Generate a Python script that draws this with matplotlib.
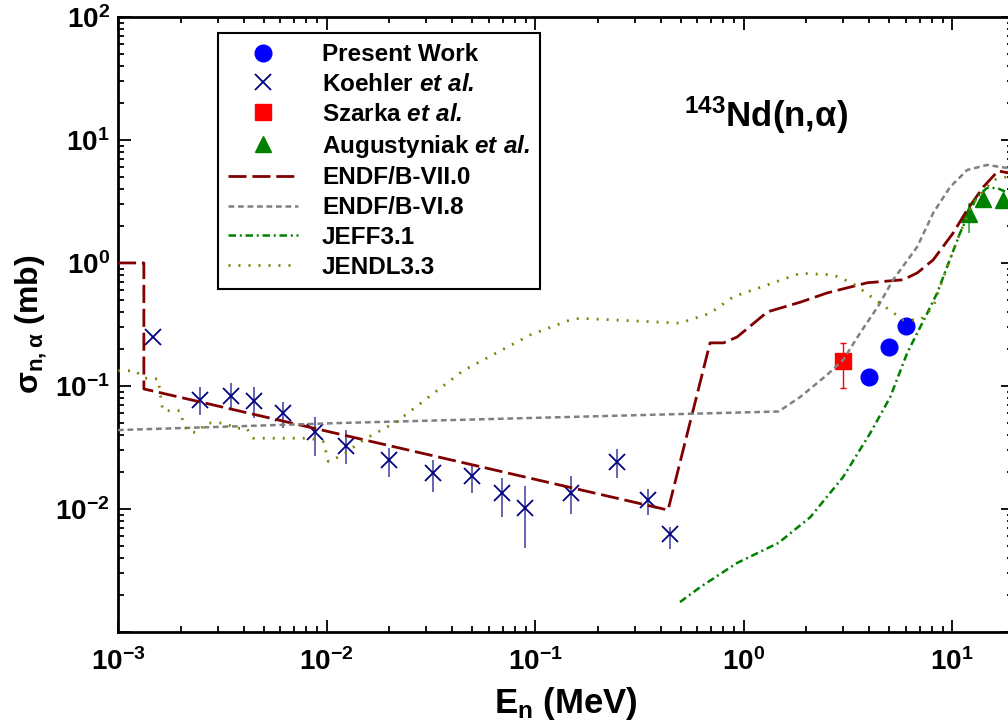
import numpy as np
import matplotlib.pyplot as plt

plt.rcParams['font.family'] = ['Liberation Sans', 'DejaVu Sans']
plt.rcParams['font.weight'] = 'bold'
plt.rcParams['mathtext.fontset'] = 'custom'
plt.rcParams['mathtext.rm'] = 'Liberation Sans:bold'
plt.rcParams['mathtext.it'] = 'Liberation Sans:bold'
plt.rcParams['mathtext.bf'] = 'Liberation Sans:bold'
plt.rcParams['mathtext.sf'] = 'Liberation Sans:bold:italic'
plt.rcParams['mathtext.default'] = 'bf'

# Present work
pw_e = [4.0, 5.0, 6.0]
pw_s = [0.118, 0.207, 0.308]

# Koehler et al.
ko_e = [1.47e-3, 2.47e-3, 3.48e-3, 4.49e-3, 6.2e-3, 8.8e-3, 0.0124, 0.020,
        0.0323, 0.0497, 0.0695, 0.0895, 0.149, 0.247, 0.347, 0.444]
ko_s = [0.250, 0.0769, 0.0830, 0.0755, 0.0603, 0.0423, 0.0327, 0.0250,
        0.0196, 0.0187, 0.0135, 0.0102, 0.0136, 0.0241, 0.0118, 0.0063]
ko_hi = [0.250, 0.0982, 0.1057, 0.0982, 0.0741, 0.0560, 0.0439, 0.0313,
         0.0250, 0.0224, 0.0179, 0.0154, 0.0185, 0.0308, 0.0146, 0.0071]
ko_lo = [0.250, 0.0581, 0.0638, 0.0550, 0.0456, 0.0270, 0.0232, 0.0182,
         0.0137, 0.0135, 0.0086, 0.0048, 0.0091, 0.0179, 0.0089, 0.0047]

# Szarka et al.
sz_e = [3.0]
sz_s = [0.16]
sz_lo = [0.096]
sz_hi = [0.224]

# Augustyniak et al.
au_e = [12.0, 14.1, 17.6]
au_s = [2.50, 3.31, 3.25]
au_lo = [1.75, 3.31, 3.25]
au_hi = [3.07, 3.31, 3.25]

# ENDF/B-VII.0
e7_e = [1e-3, 1.33e-3, 1.33e-3, 0.434, 0.69, 0.80, 0.93, 1.30, 1.87, 2.51,
        3.91, 5.82, 6.80, 8.11, 10.1, 11.8, 14.1, 16.6, 18.6, 20.0]
e7_s = [1.0, 1.0, 0.0946, 0.0098, 0.224, 0.224, 0.25, 0.40, 0.48, 0.57,
        0.69, 0.73, 0.83, 1.06, 1.75, 2.70, 4.15, 5.6, 5.4, 5.3]

# ENDF/B-VI.8
e6_e = [1e-3, 0.0117, 0.69, 1.47, 1.87, 2.51, 3.0, 3.62, 4.42, 5.21, 6.79,
        8.11, 9.78, 11.8, 14.7, 18.6, 20.0]
e6_s = [0.0438, 0.050, 0.060, 0.062, 0.0815, 0.123, 0.163, 0.27, 0.447, 0.73,
        1.35, 2.55, 4.15, 5.70, 6.26, 5.9, 5.8]

# JEFF3.1
jf_e = [0.495, 0.62, 0.93, 1.47, 2.09, 3.0, 4.05, 5.05, 6.08, 7.59, 8.47,
        9.06, 10.9, 13.1, 14.7, 16.4, 18.6, 20.0]
jf_s = [0.00175, 0.00232, 0.00364, 0.0053, 0.0086, 0.0182, 0.0415, 0.0815,
        0.185, 0.39, 0.57, 0.77, 1.75, 3.44, 4.07, 4.07, 3.7, 3.6]

# JENDL3.3
jd_e = [1.0e-3, 1.21e-3, 1.32e-3, 1.56e-3, 1.59e-3, 1.64e-3, 1.98e-3, 2.06e-3,
        2.17e-3, 2.38e-3, 2.66e-3, 3.26e-3, 3.64e-3, 4.14e-3, 4.46e-3, 8.34e-3,
        9.66e-3, 0.0102, 0.0120, 0.0150, 0.0217, 0.0451, 0.0948, 0.147, 0.164,
        0.495, 0.69, 0.89, 1.87, 2.69, 3.35, 4.52, 5.82, 7.03, 8.11, 9.46,
        10.9, 12.6, 15.7, 18.6, 20.0]
jd_s = [0.133, 0.133, 0.116, 0.114, 0.0877, 0.063, 0.063, 0.050,
        0.0425, 0.0418, 0.050, 0.050, 0.0453, 0.0453, 0.0376, 0.0376,
        0.0352, 0.0243, 0.0275, 0.0364, 0.0513, 0.133, 0.26, 0.344, 0.355,
        0.324, 0.39, 0.53, 0.824, 0.80, 0.68, 0.47, 0.344, 0.344, 0.44, 0.93,
        1.75, 3.07, 4.73, 5.04, 5.0]

yticks = [1e-3, 1e-2, 1e-1, 1e0, 1e1, 1e2]
ylabels = ['', r'$10^{-2}$', r'$10^{-1}$', r'$10^{0}$', r'$10^{1}$', r'$10^{2}$']
xticks = [1e-3, 1e-2, 1e-1, 1e0, 1e1]
xlabels = [r'$10^{-3}$', r'$10^{-2}$', r'$10^{-1}$', r'$10^{0}$', r'$10^{1}$']

fig = plt.figure(figsize=(10.08, 7.27), dpi=100)
ax = fig.add_axes([0.1171, 0.1307, 0.888, 0.846])

def bars(s, lo, hi):
    s = np.array(s)
    return [s - np.array(lo), np.array(hi) - s]

# error bars (kept out of the legend)
ax.errorbar(ko_e, ko_s, yerr=bars(ko_s, ko_lo, ko_hi), fmt='none',
            ecolor='#1c1c90', elinewidth=1.2, alpha=0.8, zorder=2)
ax.errorbar(sz_e, sz_s, yerr=bars(sz_s, sz_lo, sz_hi), fmt='none',
            ecolor='red', elinewidth=1.0, capsize=2, zorder=2)
ax.errorbar(au_e, au_s, yerr=bars(au_s, au_lo, au_hi), fmt='none',
            ecolor='#008000', elinewidth=1.5, alpha=0.6, zorder=2)

ax.plot(pw_e, pw_s, 'o', color='blue', ms=12, ls='none', label='Present Work', zorder=2)
ax.plot(ko_e, ko_s, 'x', color='#000080', ms=12, mew=1.3, ls='none',
        label=r'Koehler $\mathsf{et\ al.}$', zorder=2)
ax.plot(sz_e, sz_s, 's', color='red', ms=11, ls='none',
        label=r'Szarka $\mathsf{et\ al.}$', zorder=2)
ax.plot(au_e, au_s, '^', color='#008000', ms=12, ls='none',
        label=r'Augustyniak $\mathsf{et\ al.}$', zorder=2)

ax.plot(e7_e, e7_s, color='#800000', lw=2.0, dashes=(6.5, 2.1), label='ENDF/B-VII.0', zorder=3)
ax.plot(e6_e, e6_s, color='#808080', lw=1.8, dashes=(2.3, 1.5), label='ENDF/B-VI.8', zorder=3)
ax.plot(jf_e, jf_s, color='#008000', lw=1.8, dashes=(3.0, 1.5, 0.8, 1.5), label='JEFF3.1', zorder=3)
ax.plot(jd_e, jd_s, color='#808000', lw=2.0, dashes=(0.7, 2.9), label='JENDL3.3', zorder=3)

ax.set_xscale('log')
ax.set_yscale('log')
ax.set_xlim(1e-3, 19.6)
ax.set_ylim(1e-3, 1e2)
ax.set_xticks(xticks, xlabels)
ax.set_yticks(yticks, ylabels)
ax.tick_params(which='both', direction='in', top=True, right=True, width=1.3)
ax.tick_params(which='major', length=9, labelsize=20)
ax.tick_params(which='minor', length=4.5)
ax.tick_params(axis='x', pad=12)
ax.tick_params(axis='y', pad=6)
for sp in ax.spines.values():
    sp.set_linewidth(2)

ax.set_xlabel(r'E$_{\mathbf{n}}$ (MeV)', fontsize=25, fontweight='bold', labelpad=6)
ax.set_ylabel(r'$\sigma_{n,\alpha}$ (mb)', fontsize=23, fontweight='bold', labelpad=4)

ax.text(0.632, 0.84, r'$^{143}$Nd(n,$\alpha$)', transform=ax.transAxes,
        fontsize=25, fontweight='bold', ha='left', va='center')

leg = ax.legend(loc='upper left', bbox_to_anchor=(0.112, 0.974), fontsize=17.5,
                frameon=True, fancybox=False, framealpha=1, edgecolor='black',
                borderaxespad=0, handlelength=2.85, handletextpad=1.0,
                labelspacing=0.28, borderpad=0.42, numpoints=1)
leg.get_frame().set_linewidth(1.5)

fig.savefig('out.png', dpi=100)
